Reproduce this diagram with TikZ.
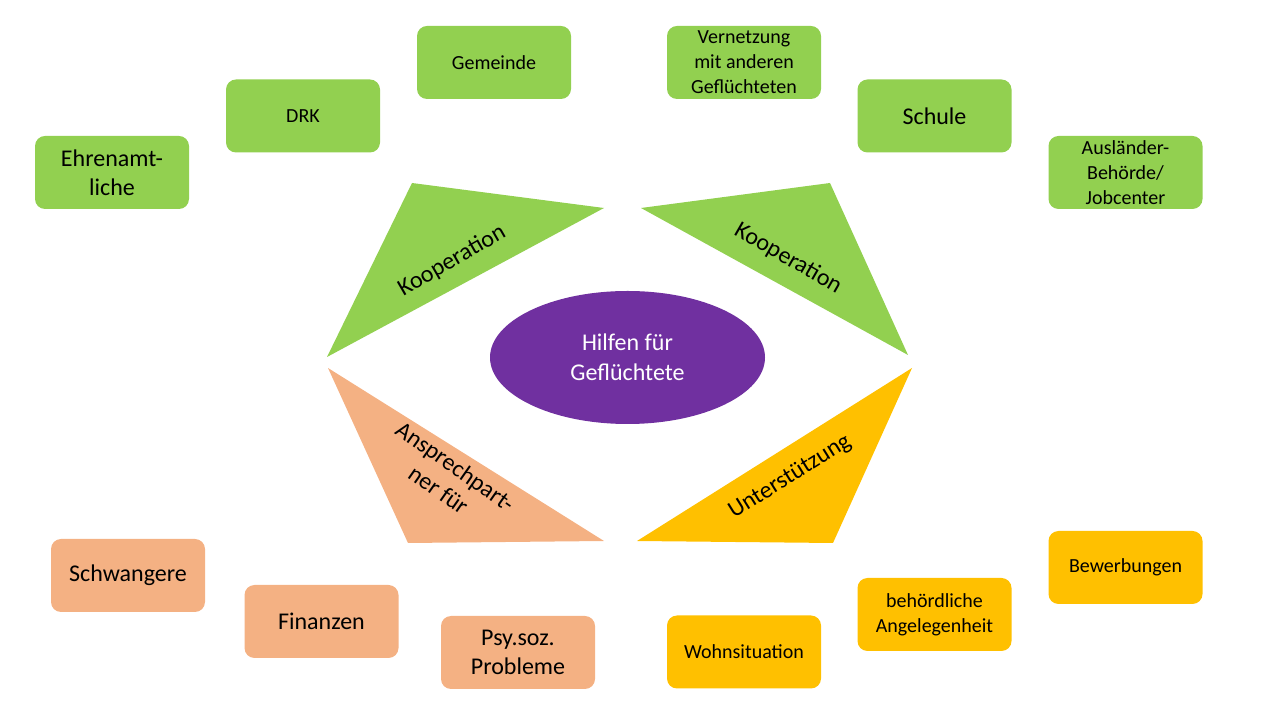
\documentclass[tikz,border=0pt]{standalone}
\usepackage{fontspec}
\setmainfont{Carlito}
\usetikzlibrary{shapes.geometric}
\definecolor{cgreen}{HTML}{92D050}
\definecolor{cpeach}{HTML}{F4B183}
\definecolor{cyellow}{HTML}{FFC000}
\definecolor{cpurple}{HTML}{7030A0}
\tikzset{
  box/.style={rounded corners=10pt, minimum width=154pt, minimum height=73pt, inner sep=2pt, align=center, text=black, font=\fontsize{20}{25}\selectfont},
  big/.style={font=\fontsize{24}{29}\selectfont},
  gbox/.style={box, fill=cgreen},
  pbox/.style={box, fill=cpeach},
  ybox/.style={box, fill=cyellow},
  trilabel/.style={font=\fontsize{24}{29}\selectfont, text=black, align=center, inner sep=0pt}
}
\begin{document}
\begin{tikzpicture}[x=1pt,y=1pt]
\useasboundingbox (0,0) rectangle (1280,720);
% triangles
\fill[cgreen] (412,537) -- (604,512) -- (327,363) -- cycle;
\fill[cgreen] (641,512) -- (830,537) -- (908,365) -- cycle;
\fill[cpeach] (328,352) -- (408,177) -- (604,179) -- cycle;
\fill[cyellow] (912,352) -- (637,179) -- (833,177) -- cycle;
\node[trilabel, rotate=30] (k1) at (452,459) {Kooperation};
\node[trilabel, rotate=-30] (k2) at (788,461.5) {Kooperation};
\node[trilabel, rotate=32] (u) at (790,243) {Unterstützung};
\node[trilabel, rotate=-35] (a) at (447,242) {Ansprechpart-\\ner für};
% center
\node[ellipse, fill=cpurple, minimum width=275pt, minimum height=133pt, inner sep=0pt, text=white, align=center, font=\fontsize{24}{30}\selectfont] (c) at (627.5,362.5) {Hilfen für\\Geflüchtete};
% green boxes
\node[gbox, big] (b1) at (112,547.5) {Ehrenamt-\\liche};
\node[gbox] (b2) at (303,604) {DRK};
\node[gbox] (b3) at (494,657.5) {Gemeinde};
\node[gbox] (b4) at (744,657.5) {Vernetzung\\mit anderen\\Geflüchteten};
\node[gbox, big] (b5) at (934.5,604) {Schule};
\node[gbox] (b6) at (1125.5,547.5) {Ausländer-\\Behörde/\\Jobcenter};
% peach boxes
\node[pbox, big] (p1) at (128,144.5) {Schwangere};
\node[pbox, big] (p2) at (321.5,98.5) {Finanzen};
\node[pbox, big] (p3) at (518,67.5) {Psy.soz.\\Probleme};
% yellow boxes
\node[ybox] (y1) at (744,68) {Wohnsituation};
\node[ybox] (y2) at (934.5,105.5) {behördliche\\Angelegenheit};
\node[ybox] (y3) at (1125.5,152.5) {Bewerbungen};
\end{tikzpicture}
\end{document}
